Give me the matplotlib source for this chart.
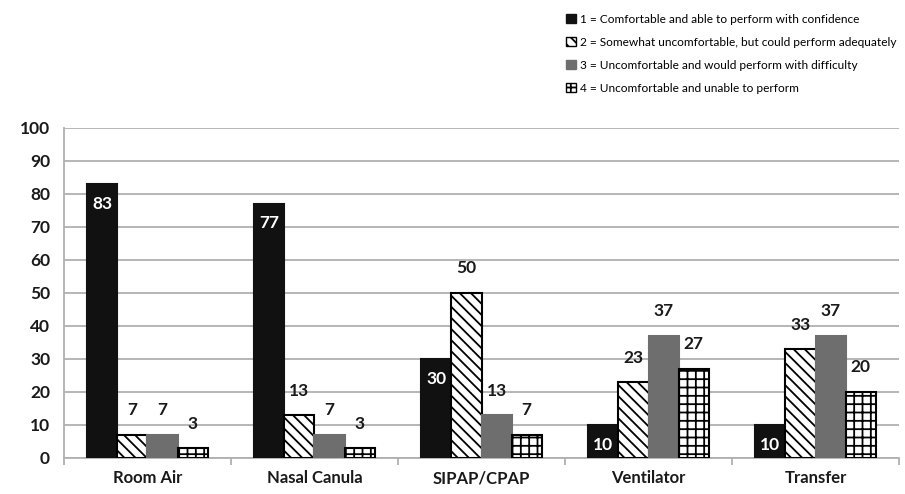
import numpy as np
import matplotlib.pyplot as plt
from matplotlib.patches import Patch

plt.rcParams['font.family'] = ['Lato', 'DejaVu Sans']
plt.rcParams['hatch.linewidth'] = 1.3

categories = ['Room Air', 'Nasal Canula', 'SIPAP/CPAP', 'Ventilator', 'Transfer']
comfortable = [83, 77, 30, 10, 10]
somewhat = [7, 13, 50, 23, 33]
difficulty = [7, 7, 13, 37, 37]
unable = [3, 3, 7, 27, 20]
legend_labels = ['1 = Comfortable and able to perform with confidence',
                 '2 = Somewhat uncomfortable, but could perform adequately',
                 '3 = Uncomfortable and would perform with difficulty',
                 '4 = Uncomfortable and unable to perform']

fig = plt.figure(figsize=(9.05, 4.94), dpi=100)
ax = fig.add_axes([0.0707, 0.0729, 0.9227, 0.668])

ind = np.arange(len(categories))
width = 0.18
offs = np.array([-1.5, -0.5, 0.5, 1.5]) * width
styles = [
    dict(color='#111111', edgecolor='#111111', hatch=None),
    dict(color='white', edgecolor='black', hatch='\\\\\\'),
    dict(color='#6e6e6e', edgecolor='#6e6e6e', hatch=None),
    dict(color='white', edgecolor='black', hatch='++'),
]
series = [comfortable, somewhat, difficulty, unable]

for vals, off, st in zip(series, offs, styles):
    ax.bar(ind + off, vals, width, color=st['color'], edgecolor=st['edgecolor'],
           hatch=st['hatch'], linewidth=1.5, zorder=3)

# value labels
for i in range(len(categories)):
    ax.text(ind[i] + offs[0], comfortable[i] - 3.5, str(comfortable[i]), color='white',
            ha='center', va='top', fontsize=12.5, fontweight='bold', zorder=4)
    for vals, off in zip(series[1:], offs[1:]):
        ax.text(ind[i] + off, vals[i] + 5, str(vals[i]), color='#1a1a1a',
                ha='center', va='bottom', fontsize=12.5, fontweight='bold', zorder=4)

ax.set_ylim(0, 100)
ax.set_xlim(-0.5, len(categories) - 0.5)
ax.set_yticks(range(0, 101, 10))
ax.yaxis.grid(True, color='#b0b0b0', linewidth=1.3, zorder=0)
ax.set_axisbelow(True)
ax.tick_params(axis='y', length=0, labelsize=12.5, pad=10, labelcolor='#1a1a1a')
for lab in ax.get_yticklabels():
    lab.set_fontweight('bold')

ax.set_xticks(ind)
ax.set_xticklabels(categories, fontsize=12, fontweight='bold', color='#1a1a1a')
ax.tick_params(axis='x', length=0, pad=9)
ax.set_xticks(np.arange(len(categories) + 1) - 0.5, minor=True)
ax.tick_params(axis='x', which='minor', length=5, color='#b0b0b0', width=1.3)

for s in ['top', 'right']:
    ax.spines[s].set_visible(False)
ax.spines['left'].set_color('#b0b0b0')
ax.spines['bottom'].set_color('#b0b0b0')
ax.spines['left'].set_linewidth(1.3)
ax.spines['bottom'].set_linewidth(1.3)

handles = [Patch(facecolor=st['color'], edgecolor=st['edgecolor'], hatch=st['hatch'])
           for st in styles]
fig.legend(handles, legend_labels, loc='upper left', bbox_to_anchor=(0.62, 0.982),
           frameon=False, fontsize=8.6, handlelength=0.85, handleheight=0.85,
           handletextpad=0.35, labelspacing=1.0, borderaxespad=0)

fig.savefig('out.png', dpi=100)
